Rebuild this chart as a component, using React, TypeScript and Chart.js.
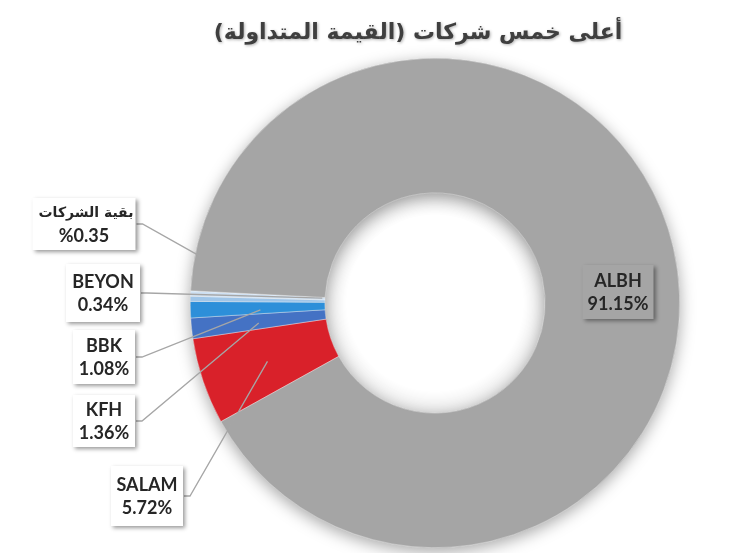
import React, { useEffect, useRef } from "react";
import { Chart, registerables } from "chart.js";

Chart.register(...registerables);

const TITLE = "أعلى خمس شركات (القيمة المتداولة)";
const categories = ["SALAM", "KFH", "BBK", "BEYON", "بقية الشركات", "ALBH"];
const shares = [5.72, 1.36, 1.08, 0.34, 0.35, 91.15];
const colors = ["#d9212a", "#4472c4", "#2d8fd9", "#9fc5e8", "#cfe1f3", "#a5a5a5"];

// label box layout: [centerX, centerY, width, height, anchorRadiusFrac, angleOffsetDeg, hasLeader]
const labelLayout: [number, number, number, number, number, number, boolean][] = [
  [147, 496, 72, 60, 0.5, -0.5, true],
  [104, 421, 62, 52, 0.5, -0.5, true],
  [104, 357, 62, 54, 0.48, -0.7, true],
  [103, 293, 74, 58, 0.02, 1.5, true],
  [84, 224, 103, 52, 0.96, 9, true],
  [618, 292, 71, 54, 0, 0, false],
];

const LABEL_FONT = "bold 18px Lato, 'Liberation Sans', sans-serif";
const AR_FONT = "bold 14px 'DejaVu Sans', sans-serif";

function isArabic(s: string) {
  return /[\u0600-\u06FF]/.test(s);
}

const overlayPlugin = {
  id: "overlay",
  beforeDatasetsDraw(chart: any) {
    const meta = chart.getDatasetMeta(0);
    const a = meta.data[0];
    if (!a) return;
    const { x, y, innerRadius, outerRadius } = a.getProps(["x", "y", "innerRadius", "outerRadius"], true);
    const ctx = chart.ctx;
    ctx.save();
    ctx.shadowColor = "rgba(0,0,0,0.35)";
    ctx.shadowBlur = 16;
    ctx.shadowOffsetX = 0;
    ctx.shadowOffsetY = 4;
    ctx.beginPath();
    ctx.arc(x, y, outerRadius, 0, Math.PI * 2);
    ctx.arc(x, y, innerRadius, 0, Math.PI * 2, true);
    ctx.fillStyle = "#a5a5a5";
    ctx.fill("evenodd");
    ctx.restore();
  },
  afterDatasetsDraw(chart: any) {
    const meta = chart.getDatasetMeta(0);
    const a = meta.data[0];
    if (!a) return;
    const { x, y, innerRadius } = a.getProps(["x", "y", "innerRadius"], true);
    const ctx = chart.ctx;
    ctx.save();
    const g = ctx.createRadialGradient(x, y, innerRadius * 0.8, x, y, innerRadius);
    g.addColorStop(0, "rgba(0,0,0,0)");
    g.addColorStop(1, "rgba(0,0,0,0.08)");
    ctx.beginPath();
    ctx.arc(x, y, innerRadius, 0, Math.PI * 2);
    ctx.fillStyle = g;
    ctx.fill();
    ctx.restore();
  },
  afterDraw(chart: any) {
    const ctx = chart.ctx;
    const meta = chart.getDatasetMeta(0);
    // title
    ctx.save();
    ctx.font = "bold 22px 'DejaVu Sans', sans-serif";
    ctx.textAlign = "center";
    ctx.textBaseline = "middle";
    ctx.fillStyle = "#3f3f3f";
    ctx.shadowColor = "rgba(0,0,0,0.3)";
    ctx.shadowBlur = 3;
    ctx.shadowOffsetX = 1;
    ctx.shadowOffsetY = 1;
    ctx.fillText(TITLE, 418, 33);
    ctx.restore();

    categories.forEach((name, i) => {
      const arc = meta.data[i];
      if (!arc) return;
      const p = arc.getProps(["x", "y", "startAngle", "endAngle", "innerRadius", "outerRadius"], true);
      const [cx, cy, w, h, frac, off, leader] = labelLayout[i];
      const left = cx - w / 2;
      const top = cy - h / 2;
      if (leader) {
        const ang = (p.startAngle + p.endAngle) / 2 + (off * Math.PI) / 180;
        const r = p.innerRadius + frac * (p.outerRadius - p.innerRadius);
        const ax = p.x + Math.cos(ang) * r;
        const ay = p.y + Math.sin(ang) * r;
        ctx.save();
        ctx.strokeStyle = "#a6a6a6";
        ctx.lineWidth = 1.3;
        ctx.beginPath();
        ctx.moveTo(left + w + 1, cy);
        ctx.lineTo(left + w + 7, cy);
        ctx.lineTo(ax, ay);
        ctx.stroke();
        ctx.restore();
      }
      ctx.save();
      ctx.shadowColor = "rgba(0,0,0,0.4)";
      ctx.shadowBlur = 4;
      ctx.shadowOffsetX = 2;
      ctx.shadowOffsetY = 2;
      ctx.fillStyle = leader ? "#ffffff" : colors[i];
      ctx.fillRect(left, top, w, h);
      ctx.restore();

      const v = shares[i].toFixed(2);
      const pct = isArabic(name) ? "%" + v : v + "%";
      ctx.save();
      ctx.fillStyle = "#262626";
      ctx.textAlign = "center";
      ctx.textBaseline = "middle";
      ctx.font = isArabic(name) ? AR_FONT : LABEL_FONT;
      ctx.fillText(name, cx + (isArabic(name) ? 2 : 0), cy - 11);
      ctx.font = LABEL_FONT;
      ctx.fillText(pct, cx, cy + 12);
      ctx.restore();
    });
  },
};

export default function App() {
  const ref = useRef<HTMLCanvasElement | null>(null);
  useEffect(() => {
    if (!ref.current) return;
    const chart = new Chart(ref.current, {
      type: "doughnut",
      data: {
        labels: categories,
        datasets: [
          {
            data: shares,
            backgroundColor: colors,
            borderColor: "rgba(255,255,255,0.6)",
            borderWidth: 0.6,
          },
        ],
      },
      options: {
        responsive: false,
        animation: false,
        cutout: "45%",
        rotation: 241,
        layout: { padding: { left: 190, right: 66, top: 58, bottom: 5 } },
        plugins: {
          legend: { display: false },
          title: { display: false },
          tooltip: { enabled: false },
        },
      },
      plugins: [overlayPlugin],
    });
    return () => chart.destroy();
  }, []);
  return (
    <div style={{ position: "absolute", left: 0, top: 0, width: 746, height: 553, background: "#fff" }}>
      <canvas ref={ref} width={746} height={553} style={{ display: "block" }} />
    </div>
  );
}
